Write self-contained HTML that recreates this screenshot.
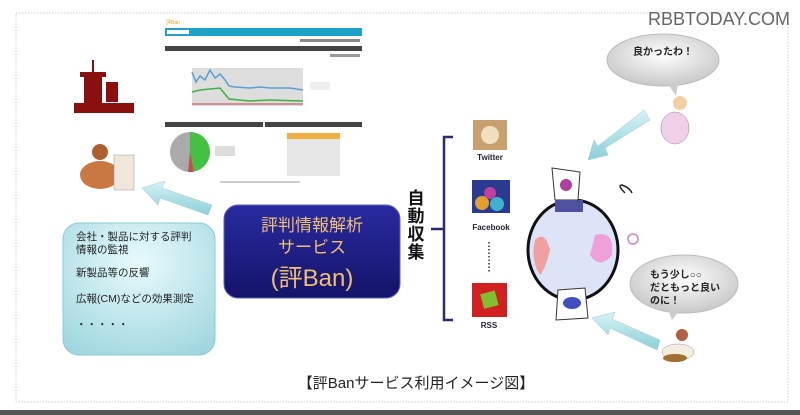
<!DOCTYPE html>
<html><head><meta charset="utf-8"><style>
body{margin:0;background:#fff;width:800px;height:415px;overflow:hidden}
svg{display:block}
text{font-family:"Liberation Sans","Noto Sans CJK JP",sans-serif}
</style></head><body>
<svg width="800" height="415" viewBox="0 0 800 415" xmlns="http://www.w3.org/2000/svg">
<defs>
<linearGradient id="bb" x1="0" y1="0" x2="0" y2="1"><stop offset="0" stop-color="#2a2aa0"/><stop offset="1" stop-color="#14146a"/></linearGradient>
<radialGradient id="lb" cx="0.5" cy="0.3" r="0.8"><stop offset="0" stop-color="#e8fafc"/><stop offset="1" stop-color="#9fd6df"/></radialGradient>
<radialGradient id="bub" cx="0.5" cy="0.4" r="0.6"><stop offset="0" stop-color="#fff"/><stop offset="1" stop-color="#c8c8c8"/></radialGradient>
<linearGradient id="ar" x1="0" y1="0" x2="0" y2="1"><stop offset="0" stop-color="#d6f3f6"/><stop offset="1" stop-color="#8ccfd8"/></linearGradient>
</defs>
<rect x="16" y="13" width="772" height="389" fill="none" stroke="#ccc" stroke-dasharray="1.5 1.5"/>
<rect x="0" y="410" width="800" height="5" fill="#555"/>
<text x="790" y="25" text-anchor="end" font-size="18" fill="#666">RBBTODAY.COM</text>
<!-- screenshot -->
<g>
<text x="166" y="24" font-size="5" fill="#e0a020">評Ban</text>
<rect x="165" y="28" width="197" height="8" fill="#1ea0c8"/><rect x="167" y="30" width="22" height="4" fill="#fff"/>
<rect x="300" y="39" width="60" height="3" fill="#888"/>
<rect x="165" y="46" width="197" height="5" fill="#444"/>
<rect x="330" y="54" width="30" height="3" fill="#999"/>
<rect x="192" y="68" width="111" height="38" fill="#ddd"/>
<polyline points="192,72 196,82 200,76 205,80 210,70 215,78 220,74 225,80 229,86 235,87 250,88 260,87 270,88 290,88 303,90" fill="none" stroke="#5aa0d0" stroke-width="1.5"/>
<polyline points="192,92 200,90 210,89 220,88 229,99 250,101 270,100 303,101" fill="none" stroke="#40b040" stroke-width="1.5"/>
<line x1="192" y1="104" x2="303" y2="104" stroke="#d04040"/>
<rect x="310" y="82" width="20" height="8" fill="#eee"/>
<rect x="165" y="122" width="98" height="5" fill="#444"/><rect x="265" y="122" width="97" height="5" fill="#444"/>
<circle cx="190" cy="152" r="20" fill="#aaa"/>
<path d="M190 152 L190 132 A20 20 0 0 1 194 171.6 Z" fill="#44c044"/>
<path d="M190 152 L194 171.6 A20 20 0 0 1 188 172 Z" fill="#c05050"/>
<rect x="215" y="146" width="20" height="10" fill="#ddd"/>
<rect x="287" y="133" width="53" height="6" fill="#f0b040"/>
<rect x="287" y="139" width="53" height="37" fill="#e6e6e6"/>
<rect x="220" y="181" width="80" height="2" fill="#ccc"/>
</g>
<!-- building -->
<g fill="#8a1010">
<rect x="84" y="76" width="18" height="36"/><rect x="80" y="72" width="26" height="5"/><rect x="92" y="60" width="2" height="12"/>
<rect x="106" y="82" width="12" height="20"/><rect x="74" y="103" width="60" height="10"/>
</g>
<!-- man -->
<g><ellipse cx="100" cy="175" rx="20" ry="14" fill="#c87840"/><circle cx="100" cy="152" r="8" fill="#b06030"/><rect x="114" y="155" width="20" height="35" fill="#f0e6dc" stroke="#999" stroke-width="0.5"/></g>
<!-- arrow left -->
<polygon points="212,205 208,215 160,198 158,205 142,188 165,181 162,188" fill="url(#ar)" stroke="#9cc" stroke-width="0.5"/>
<!-- light blue box -->
<rect x="63" y="223" width="152" height="132" rx="16" fill="url(#lb)" stroke="#8cc" />
<g font-size="10.5" fill="#222">
<text x="76" y="240">会社・製品に対する評判</text>
<text x="76" y="253">情報の監視</text>
<text x="76" y="276">新製品等の反響</text>
<text x="76" y="302">広報(CM)などの効果測定</text>
<text x="76" y="328">・・・・・</text>
</g>
<!-- blue box -->
<rect x="224" y="205" width="176" height="93" rx="14" fill="url(#bb)" stroke="#6060c0"/>
<g fill="#f0c070" text-anchor="middle">
<text x="312" y="231" font-size="17">評判情報解析</text>
<text x="312" y="253" font-size="17">サービス</text>
<text x="312" y="286" font-size="24">(評Ban)</text>
</g>
<!-- 自動収集 -->
<g font-size="17" font-weight="bold" fill="#111" text-anchor="middle">
<text x="416" y="204">自</text><text x="416" y="222">動</text><text x="416" y="240">収</text><text x="416" y="258">集</text>
</g>
<path d="M453 137 L444 137 L444 320 L453 320 M444 229 L431 229" fill="none" stroke="#2a2a70" stroke-width="2.5"/>
<!-- icons -->
<rect x="473" y="120" width="34" height="30" fill="#c8a070"/><circle cx="490" cy="135" r="9" fill="#f0e0c0"/>
<text x="490" y="160" font-size="8" font-weight="bold" text-anchor="middle" fill="#223">Twitter</text>
<rect x="472" y="180" width="38" height="33" fill="#2a3a90"/><circle cx="482" cy="203" r="7" fill="#e0a030"/><circle cx="497" cy="204" r="7" fill="#40b0d0"/><circle cx="490" cy="193" r="6" fill="#c040a0"/>
<text x="491" y="230" font-size="8" font-weight="bold" text-anchor="middle" fill="#223">Facebook</text>
<line x1="489" y1="242" x2="489" y2="273" stroke="#333" stroke-width="1.5" stroke-dasharray="1.5 2"/>
<rect x="472" y="283" width="35" height="34" fill="#d02020"/><rect x="482" y="292" width="15" height="15" fill="#80c030" transform="rotate(-15 490 300)"/>
<text x="489" y="328" font-size="8" font-weight="bold" text-anchor="middle" fill="#223">RSS</text>
<!-- globe -->
<ellipse cx="573" cy="250" rx="45" ry="50" fill="#dde4f8" stroke="#111" stroke-width="3"/>
<path d="M535 240 Q545 230 550 250 Q545 270 540 275 Q530 260 535 240Z" fill="#f0a0a0"/>
<path d="M595 235 Q615 230 612 255 Q600 270 590 255 Z" fill="#f0a0d8"/>
<path d="M552 168 L580 172 L578 200 L555 200 Z" fill="#fff" stroke="#333"/><circle cx="566" cy="185" r="6" fill="#b040a0"/>
<rect x="555" y="200" width="28" height="12" fill="#5050a0"/>
<path d="M558 290 L585 288 L588 318 L556 320 Z" fill="#fff" stroke="#333"/><ellipse cx="572" cy="303" rx="9" ry="6" fill="#4050c0"/>
<path d="M625 193 q-8 -8 -3 -8 q8 3 10 8" fill="none" stroke="#222" stroke-width="1.5"/>
<circle cx="633" cy="239" r="5" fill="none" stroke="#d080c0" stroke-width="1.5"/>
<!-- bubbles -->
<ellipse cx="663" cy="60" rx="56" ry="26" fill="url(#bub)" stroke="#bbb"/><polygon points="668,84 678,84 676,96" fill="#ccc"/>
<text x="633" y="55" font-size="10" font-weight="bold" fill="#222">良かったわ！</text>
<ellipse cx="684" cy="284" rx="54" ry="29" fill="url(#bub)" stroke="#bbb"/><polygon points="668,310 680,310 672,320" fill="#ccc"/>
<g font-size="10" font-weight="bold" fill="#222"><text x="650" y="278">もう少し○○</text><text x="650" y="291">だともっと良い</text><text x="650" y="304">のに！</text></g>
<!-- people -->
<g><circle cx="680" cy="103" r="7" fill="#f0d0a0"/><ellipse cx="675" cy="128" rx="14" ry="16" fill="#f0d0e8" stroke="#a080a0" stroke-width="0.5"/></g>
<g><circle cx="682" cy="335" r="6" fill="#b06040"/><ellipse cx="678" cy="352" rx="16" ry="8" fill="#f4eee0" stroke="#999" stroke-width="0.5"/><ellipse cx="675" cy="358" rx="12" ry="4" fill="#a07030"/></g>
<!-- arrows right -->
<polygon points="644,110 650,120 605,148 608,155 588,160 594,140 598,146" fill="url(#ar)" stroke="#9cc" stroke-width="0.5"/>
<polygon points="660,340 657,350 610,328 608,335 592,318 615,312 612,319" fill="url(#ar)" stroke="#9cc" stroke-width="0.5"/>
<text x="416" y="388" font-size="15" text-anchor="middle" fill="#222">【評Banサービス利用イメージ図】</text>
</svg>
</body></html>
